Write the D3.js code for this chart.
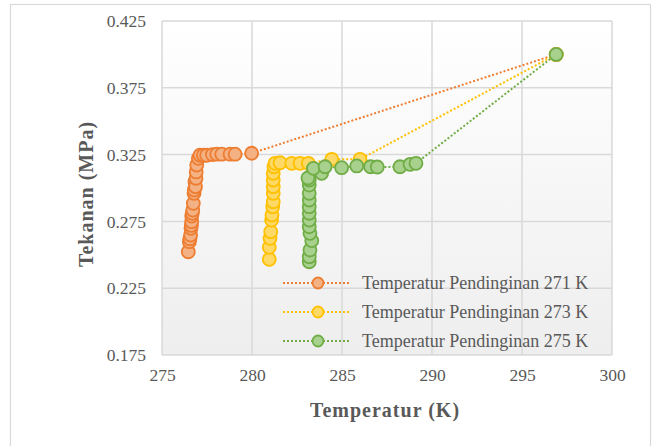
<!DOCTYPE html>
<html><head><meta charset="utf-8">
<script src="https://cdn.jsdelivr.net/npm/d3@7"></script>
<style>body{margin:0;background:#fff;overflow:hidden}</style>
</head><body><svg id="c" width="654" height="446"></svg>
<script>
const xTicks=[275,280,285,290,295,300];
const yTicks=[0.175,0.225,0.275,0.325,0.375,0.425];
const seriesNames=["Temperatur Pendinginan 271 K","Temperatur Pendinginan 273 K","Temperatur Pendinginan 275 K"];
const xTitle="Temperatur (K)";
const yTitle="Tekanan (MPa)";

const t271=[276.46,276.52,276.55,276.59,276.61,276.63,276.65,276.65,276.68,276.71,276.74,276.78,276.79,276.83,276.86,276.89,276.90,276.93,277.02,277.11,277.30,277.48,277.80,278.04,278.32,278.78,279.06,279.98,296.9];
const p271=[0.2523,0.2598,0.2620,0.2648,0.2698,0.2720,0.2748,0.2790,0.2810,0.2835,0.2885,0.2960,0.2985,0.3047,0.3010,0.3073,0.3120,0.3172,0.3222,0.3245,0.3245,0.3245,0.3250,0.3253,0.3253,0.3253,0.3253,0.3260,0.400];

const t273=[280.96,280.96,281.00,281.04,281.09,281.11,281.15,281.18,281.18,281.18,281.18,281.18,281.22,281.28,281.56,282.21,282.67,283.13,284.43,286.00,296.9];
const p273=[0.2466,0.2556,0.2623,0.2673,0.2760,0.2798,0.2860,0.2897,0.2960,0.3010,0.3060,0.3110,0.3159,0.3185,0.3189,0.3185,0.3185,0.3185,0.3215,0.3215,0.400];

const t275=[283.18,283.18,283.22,283.32,283.22,283.18,283.18,283.18,283.18,283.18,283.18,283.18,283.18,283.11,283.87,283.41,284.06,284.98,285.82,286.59,286.96,288.22,288.78,289.11,296.9];
const p275=[0.2448,0.2486,0.2536,0.2606,0.2661,0.2710,0.2760,0.2811,0.2860,0.2910,0.2960,0.3022,0.3060,0.3075,0.3110,0.3147,0.3159,0.3152,0.3165,0.3159,0.3157,0.3159,0.3177,0.3185,0.400];

const strokeCols=["#ED7D31","#FFC000","#70AD47"];
const fillCols=["#F4B183","#FFD966","#A9D18E"];

const svg=d3.select("#c");
const L=162,R=612,T=21,B=355;
const x=d3.scaleLinear().domain([275,300]).range([L,R]);
const y=d3.scaleLinear().domain([0.175,0.425]).range([B,T]);

// outer border
svg.append("rect").attr("x",10.5).attr("y",4.5).attr("width",640).attr("height",460)
  .attr("fill","#fff").attr("stroke","#d9d9d9").attr("stroke-width",1.2);

const defs=svg.append("defs");
const g=defs.append("linearGradient").attr("id","bg").attr("x1",0).attr("y1",0).attr("x2",0).attr("y2",1);
g.append("stop").attr("offset","0%").attr("stop-color","#ffffff");
g.append("stop").attr("offset","100%").attr("stop-color","#eeeeee");
svg.append("rect").attr("x",L).attr("y",T).attr("width",R-L).attr("height",B-T).attr("fill","url(#bg)");

// gridlines
svg.append("g").selectAll("line").data(yTicks).join("line")
  .attr("x1",L).attr("x2",R).attr("y1",d=>y(d)).attr("y2",d=>y(d))
  .attr("stroke","#d9d9d9").attr("stroke-width",1.5);
svg.append("g").selectAll("line").data(xTicks).join("line")
  .attr("y1",T).attr("y2",B).attr("x1",d=>x(d)).attr("x2",d=>x(d))
  .attr("stroke","#d9d9d9").attr("stroke-width",1.5);

// axes labels via d3 axes
const font="'Liberation Serif','Times New Roman',serif";
const xa=svg.append("g").attr("transform",`translate(0,${B+14})`)
  .call(d3.axisBottom(x).tickValues(xTicks).tickSize(0).tickPadding(0).tickFormat(d3.format("d")));
xa.select(".domain").remove();
xa.selectAll("text").attr("font-family",font).attr("font-size","17.5px").attr("fill","#595959").attr("dy","0.71em");
const ya=svg.append("g").attr("transform",`translate(${L-16},0)`)
  .call(d3.axisLeft(y).tickValues(yTicks).tickSize(0).tickPadding(0).tickFormat(d3.format(".3f")));
ya.select(".domain").remove();
ya.selectAll("text").attr("font-family",font).attr("font-size","17.5px").attr("fill","#595959");

// titles
svg.append("text").attr("x",(L+R)/2-2).attr("y",417).attr("text-anchor","middle")
  .attr("font-family",font).attr("font-weight","bold").attr("font-size","20px").attr("letter-spacing","1px")
  .attr("fill","#595959").text(xTitle);
svg.append("text").attr("transform",`translate(93,${(T+B)/2+6}) rotate(-90)`).attr("text-anchor","middle")
  .attr("font-family",font).attr("font-weight","bold").attr("font-size","20px").attr("letter-spacing","1px")
  .attr("fill","#595959").text(yTitle);

const series=[[t271,p271],[t273,p273],[t275,p275]].map((s,i)=>s[0].map((t,j)=>({t,p:s[1][j],i})));
const line=d3.line().x(d=>x(d.t)).y(d=>y(d.p));

series.forEach((s,i)=>{
  svg.append("path").datum(s).attr("d",line).attr("fill","none")
    .attr("stroke",strokeCols[i]).attr("stroke-width",2).attr("stroke-dasharray","2,2");
});
series.forEach((s,i)=>{
  svg.append("g").selectAll("circle").data(s).join("circle")
    .attr("cx",d=>x(d.t)).attr("cy",d=>y(d.p)).attr("r",6.5)
    .attr("fill",fillCols[i]).attr("stroke",strokeCols[i]).attr("stroke-width",1.8);
});

// legend
const leg=svg.append("g");
seriesNames.forEach((n,i)=>{
  const yy=283+i*29;
  leg.append("line").attr("x1",283).attr("x2",351).attr("y1",yy).attr("y2",yy)
    .attr("stroke",strokeCols[i]).attr("stroke-width",2).attr("stroke-dasharray","2,2");
  leg.append("circle").attr("cx",318).attr("cy",yy).attr("r",5.5)
    .attr("fill",fillCols[i]).attr("stroke",strokeCols[i]).attr("stroke-width",1.8);
  leg.append("text").attr("x",362).attr("y",yy).attr("dy","0.35em")
    .attr("font-family",font).attr("font-size","18px").attr("fill","#595959").text(n);
});
</script></body></html>
